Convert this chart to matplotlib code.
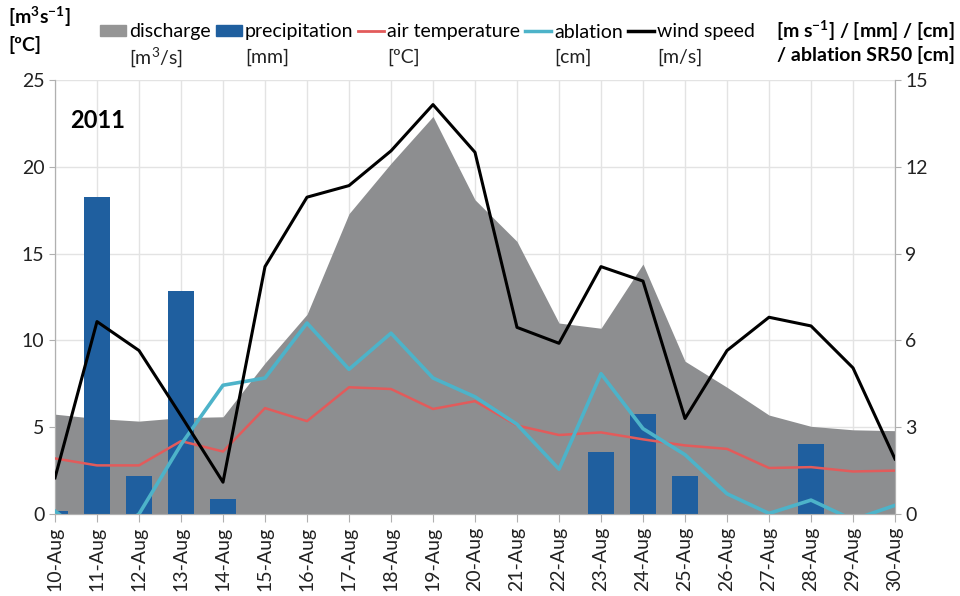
import matplotlib
matplotlib.use("Agg")
import matplotlib.pyplot as plt
from matplotlib.patches import Patch
from matplotlib.lines import Line2D
import numpy as np

plt.rcParams['font.family'] = ['Lato', 'DejaVu Sans']
plt.rcParams['mathtext.default'] = 'regular'

dates = ["10-Aug", "11-Aug", "12-Aug", "13-Aug", "14-Aug", "15-Aug", "16-Aug",
         "17-Aug", "18-Aug", "19-Aug", "20-Aug", "21-Aug", "22-Aug", "23-Aug",
         "24-Aug", "25-Aug", "26-Aug", "27-Aug", "28-Aug", "29-Aug", "30-Aug"]
discharge = [5.75, 5.5, 5.35, 5.55, 5.6, 8.7, 11.5, 17.3, 20.2, 22.9, 18.1,
             15.7, 11.0, 10.7, 14.4, 8.8, 7.3, 5.7, 5.05, 4.85, 4.8]
precipitation = [0.12, 10.95, 1.3, 7.7, 0.52, 0, 0, 0, 0, 0, 0,
                 0, 0, 2.13, 3.45, 1.3, 0, 0, 2.42, 0, 0]
air_temp = [3.2, 2.8, 2.8, 4.2, 3.6, 6.1, 5.35, 7.3, 7.2, 6.05, 6.5,
            5.1, 4.55, 4.7, 4.3, 3.95, 3.75, 2.65, 2.7, 2.45, 2.5]
ablation = [0.1, -1.0, 0.0, 2.4, 4.45, 4.7, 6.6, 5.0, 6.25, 4.7, 4.05,
            3.1, 1.55, 4.85, 2.95, 2.05, 0.7, 0.02, 0.48, -0.2, 0.3]
wind = [1.25, 6.65, 5.65, 3.4, 1.1, 8.55, 10.95, 11.35, 12.55, 14.15, 12.5,
        6.45, 5.9, 8.55, 8.05, 3.3, 5.65, 6.8, 6.5, 5.05, 1.9]

left_ticks = [0, 5, 10, 15, 20, 25]
right_ticks = [0, 3, 6, 9, 12, 15]

x = np.arange(len(dates))

fig = plt.figure(figsize=(9.6, 5.96), dpi=100)
rect = [55/960, 82/596, 840/960, 434/596]
ax = fig.add_axes(rect)

c_dis = '#8d8e90'
c_pre = '#1f5f9f'
c_tmp = '#e25b5b'
c_abl = '#4db3c9'
c_wind = '#000000'
grid_c = '#e3e3e3'
spine_c = '#b0b0b0'
tick_fs = 14

# discharge (left scale)
ax.fill_between(x, discharge, 0, color=c_dis, lw=0, zorder=2)
ax.set_xlim(0, len(dates) - 1)
ax.set_ylim(0, 25)
ax.set_yticks(left_ticks)
ax.set_xticks(x)
ax.set_xticklabels(dates, rotation=90, fontsize=tick_fs, color='#222222')
ax.tick_params(axis='y', labelsize=tick_fs, colors='#222222', length=4, color=spine_c)
ax.tick_params(axis='x', length=6, color=spine_c, pad=3)
ax.grid(True, color=grid_c, lw=1, zorder=0)
ax.set_axisbelow(True)
ax.spines['top'].set_visible(False)
for s in ['left', 'right', 'bottom']:
    ax.spines[s].set_color(spine_c)

# precipitation (right scale)
ax_r = ax.twinx()
ax_r.bar(x, precipitation, width=0.6, color=c_pre, zorder=2)
ax_r.set_ylim(0, 15)
ax_r.set_yticks(right_ticks)
ax_r.tick_params(axis='y', labelsize=tick_fs, colors='#222222', length=4, color=spine_c)
ax_r.spines['top'].set_visible(False)
for s in ['left', 'right', 'bottom']:
    ax_r.spines[s].set_color(spine_c)

# air temperature (left scale)
ax_t = ax.twinx()
ax_t.plot(x, air_temp, color=c_tmp, lw=1.8)
ax_t.set_ylim(0, 25)
ax_t.axis('off')

# ablation, wind (right scale)
ax_w = ax.twinx()
ax_w.plot(x, ablation, color=c_abl, lw=2.6)
ax_w.plot(x, wind, color=c_wind, lw=2.2)
ax_w.set_ylim(0, 15)
ax_w.axis('off')

ax_w.text(15/840, (514-120)/434, '2011', transform=ax_w.transAxes,
          fontsize=17, fontweight='bold', va='center', ha='left')

# legend
handles = [Patch(color='#959595'), Patch(color=c_pre),
           Line2D([], [], color=c_tmp, lw=2), Line2D([], [], color=c_abl, lw=2.5),
           Line2D([], [], color=c_wind, lw=2.5)]
labels = ['discharge', 'precipitation', 'air temperature', 'ablation', 'wind speed']
units = ['[m$^3$/s]', '[mm]', '[ºC]', '[cm]', '[m/s]']
leg = fig.legend(handles, labels, loc='center left', bbox_to_anchor=(100/960, 1 - 32/596),
                 ncol=5, frameon=False, fontsize=14, handlelength=1.35, handleheight=0.45,
                 handletextpad=0.15, columnspacing=0.25, borderpad=0, borderaxespad=0)
fig.canvas.draw()
renderer = fig.canvas.get_renderer()
inv = fig.transFigure.inverted()
for t, u in zip(leg.get_texts(), units):
    bb = t.get_window_extent(renderer)
    x0, _ = inv.transform((bb.x0, bb.y0))
    fig.text(x0, 1 - 57/596, u, fontsize=14, ha='left', va='center', color='#222222')

fig.text(8/960, 1 - 17/596, '[m$^3$s$^{-1}$]', fontsize=14, fontweight='bold', ha='left', va='center')
fig.text(8/960, 1 - 45/596, '[ºC]', fontsize=14, fontweight='bold', ha='left', va='center')
fig.text(955/960, 1 - 31/596, '[m s$^{-1}$] / [mm] / [cm]', fontsize=14, fontweight='bold',
         ha='right', va='center')
fig.text(955/960, 1 - 55/596, '/ ablation SR50 [cm]', fontsize=14, fontweight='bold',
         ha='right', va='center')

fig.savefig('out.png', dpi=100)
